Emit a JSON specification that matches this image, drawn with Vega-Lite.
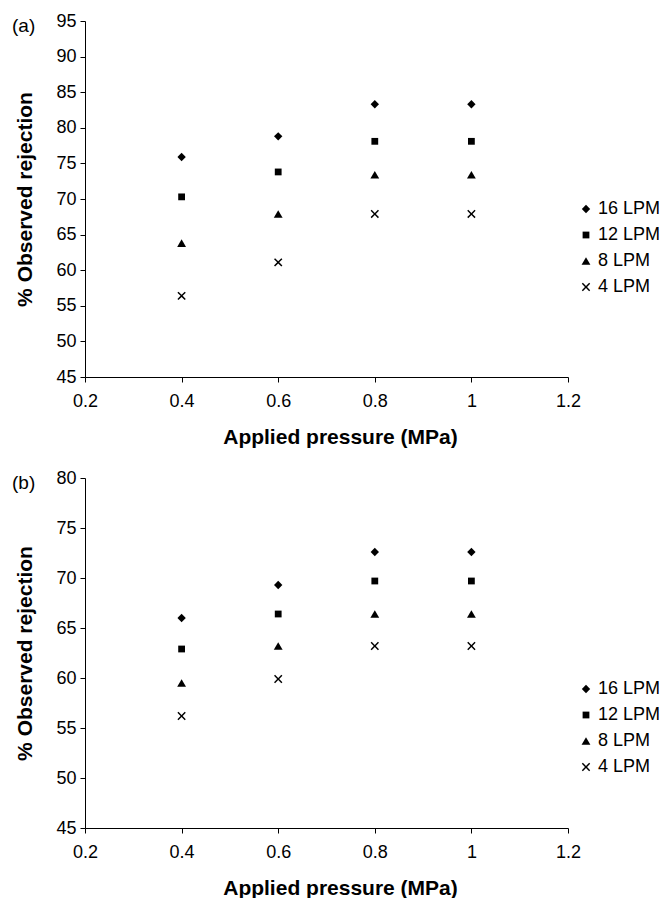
{
  "$schema": "https://vega.github.io/schema/vega-lite/v6.json",
  "padding": {"left": 12, "top": 12, "right": 0, "bottom": 0},
  "background": "white",
  "datasets": {
    "a": [
      {"pressure": 0.4, "flow": "16 LPM", "rejection": 75.9},
      {"pressure": 0.4, "flow": "12 LPM", "rejection": 70.3},
      {"pressure": 0.4, "flow": "8 LPM", "rejection": 63.8},
      {"pressure": 0.4, "flow": "4 LPM", "rejection": 56.4},
      {"pressure": 0.6, "flow": "16 LPM", "rejection": 78.8},
      {"pressure": 0.6, "flow": "12 LPM", "rejection": 73.8},
      {"pressure": 0.6, "flow": "8 LPM", "rejection": 67.9},
      {"pressure": 0.6, "flow": "4 LPM", "rejection": 61.1},
      {"pressure": 0.8, "flow": "16 LPM", "rejection": 83.3},
      {"pressure": 0.8, "flow": "12 LPM", "rejection": 78.1},
      {"pressure": 0.8, "flow": "8 LPM", "rejection": 73.4},
      {"pressure": 0.8, "flow": "4 LPM", "rejection": 67.9},
      {"pressure": 1.0, "flow": "16 LPM", "rejection": 83.3},
      {"pressure": 1.0, "flow": "12 LPM", "rejection": 78.1},
      {"pressure": 1.0, "flow": "8 LPM", "rejection": 73.4},
      {"pressure": 1.0, "flow": "4 LPM", "rejection": 67.9}
    ],
    "b": [
      {"pressure": 0.4, "flow": "16 LPM", "rejection": 66.0},
      {"pressure": 0.4, "flow": "12 LPM", "rejection": 62.9},
      {"pressure": 0.4, "flow": "8 LPM", "rejection": 59.5},
      {"pressure": 0.4, "flow": "4 LPM", "rejection": 56.2},
      {"pressure": 0.6, "flow": "16 LPM", "rejection": 69.3},
      {"pressure": 0.6, "flow": "12 LPM", "rejection": 66.4},
      {"pressure": 0.6, "flow": "8 LPM", "rejection": 63.2},
      {"pressure": 0.6, "flow": "4 LPM", "rejection": 59.9},
      {"pressure": 0.8, "flow": "16 LPM", "rejection": 72.6},
      {"pressure": 0.8, "flow": "12 LPM", "rejection": 69.7},
      {"pressure": 0.8, "flow": "8 LPM", "rejection": 66.4},
      {"pressure": 0.8, "flow": "4 LPM", "rejection": 63.2},
      {"pressure": 1.0, "flow": "16 LPM", "rejection": 72.6},
      {"pressure": 1.0, "flow": "12 LPM", "rejection": 69.7},
      {"pressure": 1.0, "flow": "8 LPM", "rejection": 66.4},
      {"pressure": 1.0, "flow": "4 LPM", "rejection": 63.2}
    ]
  },
  "spacing": 22,
  "vconcat": [
    {
      "width": 483,
      "height": 356,
      "data": {"name": "a"},
      "title": {"text": "(a)", "anchor": "start", "frame": "group", "dx": -73, "dy": 29, "offset": -4, "baseline": "middle", "fontSize": 19, "fontWeight": "normal", "font": "Liberation Sans", "color": "black"},
      "mark": {"type": "point", "filled": true, "opacity": 1, "color": "black"},
      "encoding": {
        "x": {"field": "pressure", "type": "quantitative", "scale": {"domain": [0.2, 1.2], "nice": false, "zero": false}, "axis": {"values": [0.2, 0.4, 0.6, 0.8, 1, 1.2], "format": "~g", "title": "Applied pressure (MPa)"}},
        "y": {"field": "rejection", "type": "quantitative", "scale": {"domain": [45, 95], "nice": false, "zero": false}, "axis": {"values": [45, 50, 55, 60, 65, 70, 75, 80, 85, 90, 95], "title": "% Observed rejection"}},
        "shape": {"field": "flow", "type": "nominal", "scale": {"domain": ["16 LPM", "12 LPM", "8 LPM", "4 LPM"], "range": ["diamond", "square", "triangle-up", "M-1,-0.75L-0.75,-1L0,-0.25L0.75,-1L1,-0.75L0.25,0L1,0.75L0.75,1L0,0.25L-0.75,1L-1,0.75L-0.25,0Z"]}, "legend": {"orient": "none", "legendX": 492, "legendY": 179, "title": null}},
        "size": {"field": "flow", "type": "nominal", "scale": {"type": "ordinal", "domain": ["16 LPM", "12 LPM", "8 LPM", "4 LPM"], "range": [70, 46, 78, 70]}, "legend": {"orient": "none", "legendX": 492, "legendY": 179, "title": null}}
      }
    },
    {
      "width": 483,
      "height": 350,
      "data": {"name": "b"},
      "title": {"text": "(b)", "anchor": "start", "frame": "group", "dx": -73, "dy": 29, "offset": -4, "baseline": "middle", "fontSize": 19, "fontWeight": "normal", "font": "Liberation Sans", "color": "black"},
      "mark": {"type": "point", "filled": true, "opacity": 1, "color": "black"},
      "encoding": {
        "x": {"field": "pressure", "type": "quantitative", "scale": {"domain": [0.2, 1.2], "nice": false, "zero": false}, "axis": {"values": [0.2, 0.4, 0.6, 0.8, 1, 1.2], "format": "~g", "title": "Applied pressure (MPa)"}},
        "y": {"field": "rejection", "type": "quantitative", "scale": {"domain": [45, 80], "nice": false, "zero": false}, "axis": {"values": [45, 50, 55, 60, 65, 70, 75, 80], "title": "% Observed rejection"}},
        "shape": {"field": "flow", "type": "nominal", "scale": {"domain": ["16 LPM", "12 LPM", "8 LPM", "4 LPM"], "range": ["diamond", "square", "triangle-up", "M-1,-0.75L-0.75,-1L0,-0.25L0.75,-1L1,-0.75L0.25,0L1,0.75L0.75,1L0,0.25L-0.75,1L-1,0.75L-0.25,0Z"]}, "legend": {"orient": "none", "legendX": 492, "legendY": 202, "title": null}},
        "size": {"field": "flow", "type": "nominal", "scale": {"type": "ordinal", "domain": ["16 LPM", "12 LPM", "8 LPM", "4 LPM"], "range": [70, 46, 78, 70]}, "legend": {"orient": "none", "legendX": 492, "legendY": 202, "title": null}}
      }
    }
  ],
  "resolve": {
    "scale": {"x": "independent", "y": "independent", "shape": "independent", "size": "independent"},
    "legend": {"shape": "independent", "size": "independent"}
  },
  "config": {
    "font": "Liberation Sans",
    "view": {"stroke": null},
    "axis": {
      "grid": false,
      "domainColor": "black",
      "tickColor": "black",
      "labelColor": "black",
      "titleColor": "black",
      "domainWidth": 1,
      "tickWidth": 1,
      "tickSize": 5,
      "labelFont": "Liberation Sans",
      "titleFont": "Liberation Sans",
      "labelFontSize": 18,
      "titleFontSize": 21,
      "titleFontWeight": "bold",
      "labelFlush": false
    },
    "axisX": {"labelPadding": 10, "titlePadding": 16, "titleX": 255},
    "axisY": {"labelPadding": 4, "titlePadding": 20},
    "legend": {
      "labelFont": "Liberation Sans",
      "labelFontSize": 18,
      "labelColor": "black",
      "labelOffset": 3,
      "rowPadding": 8,
      "padding": 0
    }
  }
}
